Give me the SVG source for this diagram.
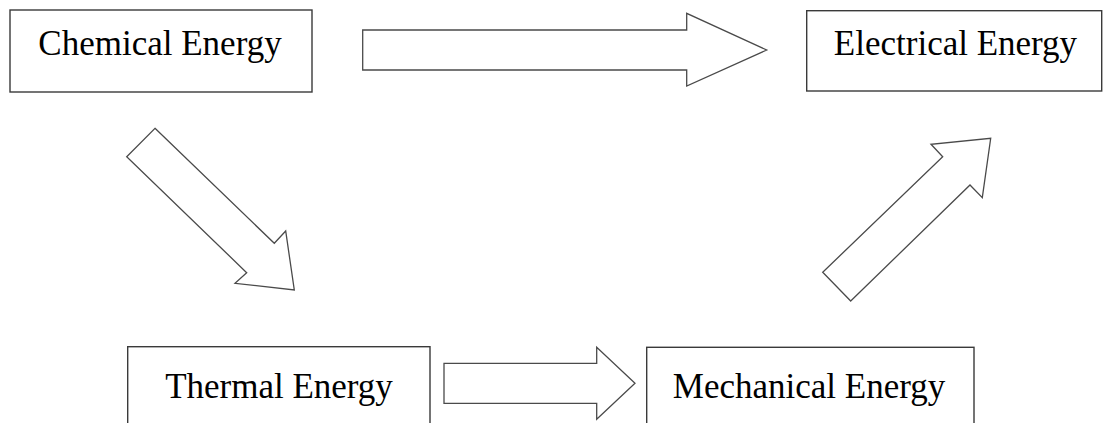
<svg xmlns="http://www.w3.org/2000/svg" width="1104" height="423" viewBox="0 0 1104 423">
<style>
.box{fill:#fff;stroke:#3a3a3a;stroke-width:1.4}
.lbl{font-family:"Liberation Serif","Times New Roman",serif;font-size:35px;fill:#000;text-anchor:middle}
.arr{fill:#fff;stroke:#4a4a4a;stroke-width:1.3;stroke-linejoin:miter}
</style>
<rect width="1104" height="423" fill="#fff"/>
<g id="connectors">
<polygon class="arr" points="362.7,30 686.7,30 686.7,13.3 766.7,50 686.7,86 686.7,70 362.7,70"/>
<polygon class="arr" points="155,128.3 274.3,243.3 285.7,231 294.3,290 235,283.3 246.7,272.7 126.7,156.7"/>
<polygon class="arr" points="444,363.3 596.7,363.3 596.7,347.3 635,383.3 596.7,419.3 596.7,403.3 444,403.3"/>
<polygon class="arr" points="850.7,301 970,185 982.3,197.7 990.7,138.3 931,144.3 942.7,156.7 822.7,272.3"/>
</g>
<g id="chemical">
<rect class="box" x="10" y="10" width="302" height="82"/>
<text class="lbl" x="160" y="55">Chemical Energy</text>
</g>
<g id="electrical">
<rect class="box" x="806.7" y="10.7" width="295" height="80.3"/>
<text class="lbl" x="955.5" y="55">Electrical Energy</text>
</g>
<g id="thermal">
<rect class="box" x="127.7" y="346.7" width="302.3" height="90"/>
<text class="lbl" x="279" y="398">Thermal Energy</text>
</g>
<g id="mechanical">
<rect class="box" x="646.7" y="347.3" width="327.3" height="90"/>
<text class="lbl" x="809" y="398">Mechanical Energy</text>
</g>
</svg>
